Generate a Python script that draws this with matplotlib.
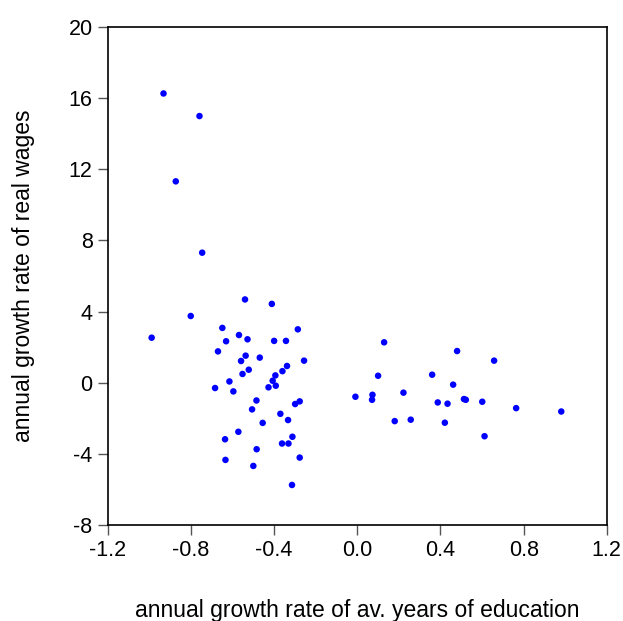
import matplotlib
matplotlib.use('Agg')
import matplotlib.pyplot as plt
import numpy as np

plt.rcParams['font.family'] = ['Liberation Sans', 'DejaVu Sans']
plt.rcParams['axes.unicode_minus'] = False

# annual growth rate of average years of education (x) and real wages (y)
edu = [-0.932, -0.759, -0.873, -0.746,
       -0.540, -0.411, -0.801, -0.649, -0.286, -0.989, -0.631, -0.569,
       -0.528, -0.400, -0.343, -0.670, -0.537, -0.559, -0.469, -0.256,
       -0.338, -0.360, -0.522, -0.552, -0.394, -0.407, -0.392, -0.427,
       -0.615, -0.684, -0.596, -0.485, -0.506, -0.299, -0.277, -0.370,
       -0.333, -0.455, -0.572, -0.636, -0.312, -0.362, -0.331, -0.484,
       -0.277, -0.634, -0.500, -0.314,
       0.129, 0.480, 0.658, 0.100, 0.360, 0.461, -0.009, 0.073,
       0.071, 0.222, 0.387, 0.434, 0.513, 0.522, 0.601, 0.764,
       0.981, 0.180, 0.257, 0.421, 0.612]
wages = [16.26, 14.99, 11.32, 7.31,
         4.68, 4.43, 3.75, 3.08, 3.00, 2.53, 2.33, 2.68,
         2.44, 2.35, 2.35, 1.76, 1.52, 1.22, 1.41, 1.24,
         0.94, 0.65, 0.73, 0.49, 0.41, 0.11, -0.17, -0.26,
         0.07, -0.30, -0.49, -1.00, -1.50, -1.20, -1.05, -1.75,
         -2.10, -2.26, -2.76, -3.18, -3.04, -3.42, -3.42, -3.74,
         -4.21, -4.34, -4.68, -5.75,
         2.27, 1.78, 1.24, 0.39, 0.45, -0.11, -0.79, -0.68,
         -0.96, -0.56, -1.11, -1.18, -0.92, -0.96, -1.07, -1.43,
         -1.62, -2.16, -2.08, -2.25, -3.01]

xticks = [-1.2, -0.8, -0.4, 0.0, 0.4, 0.8, 1.2]
yticks = [-8, -4, 0, 4, 8, 12, 16, 20]

fig = plt.figure(figsize=(6.23, 6.21), dpi=100)
ax = fig.add_axes([0.173, 0.1546, 0.801, 0.802])

ax.scatter(edu, wages, s=22, color='#0000ff', edgecolors='none', zorder=3)

ax.set_xlim(-1.2, 1.2)
ax.set_ylim(-8, 20)
ax.set_xticks(xticks)
ax.set_xticklabels(['%.1f' % v for v in xticks])
ax.set_yticks(yticks)
ax.tick_params(direction='out', length=7, width=1, color='#555555',
               labelsize=15.5, pad=4)
for s in ax.spines.values():
    s.set_linewidth(1.2)

ax.set_xlabel('annual growth rate of av. years of education', fontsize=16.5)
ax.set_ylabel('annual growth rate of real wages', fontsize=16.5)
ax.xaxis.set_label_coords(0.5, -0.148)
ax.yaxis.set_label_coords(-0.145, 0.5)

fig.savefig('out.png', dpi=100)
